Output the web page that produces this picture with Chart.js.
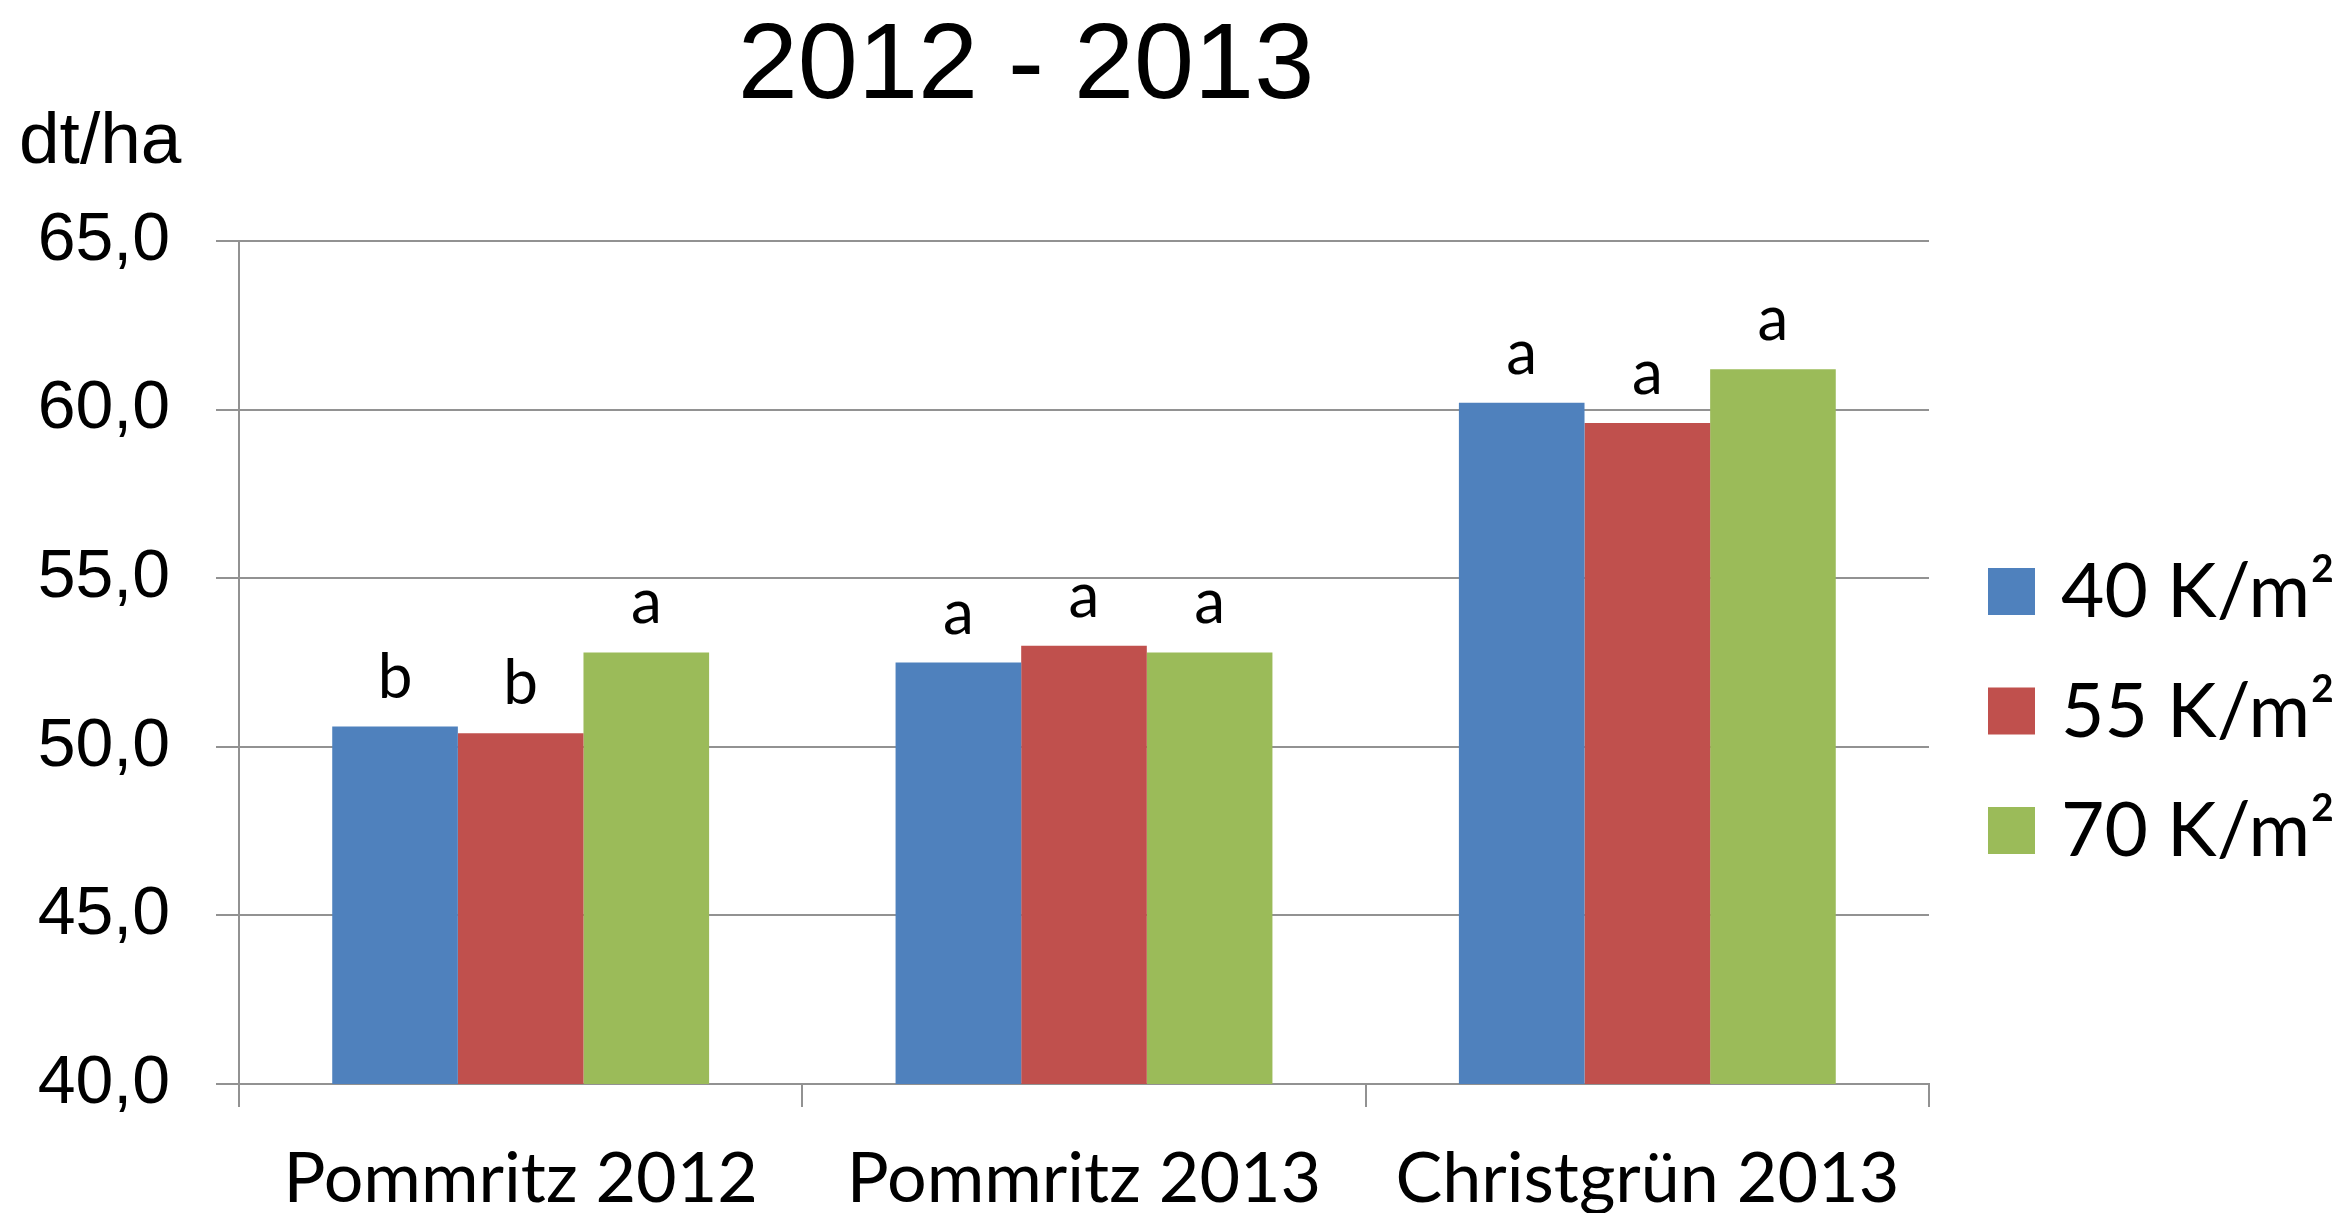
<!DOCTYPE html>
<html>
<head>
<meta charset="utf-8">
<script src="https://cdn.jsdelivr.net/npm/chart.js@4.4.1/dist/chart.umd.min.js"></script>
<style>
  body { margin: 0; background: #fff; }
  canvas { display: block; }
</style>
</head>
<body>
<canvas id="myChart" width="2345" height="1213"></canvas>
<script>
const labels = ["Pommritz 2012", "Pommritz 2013", "Christgrün 2013"];
const seriesNames = ["40 K/m²", "55 K/m²", "70 K/m²"];
const values40 = [50.6, 52.5, 60.2];
const values55 = [50.4, 53.0, 59.6];
const values70 = [52.8, 52.8, 61.2];
const letters40 = ["b", "a", "a"];
const letters55 = ["b", "a", "a"];
const letters70 = ["a", "a", "a"];
const yTicks = [40, 45, 50, 55, 60, 65];
const chartTitle = "2012 - 2013";
const unitLabel = "dt/ha";

const colors = ["#4F81BD", "#C0504D", "#9BBB59"];
const gridColor = "#929292";

// title, unit, letters over bars, legend
const extraText = {
  id: "extraText",
  afterDraw(chart) {
    const ctx = chart.ctx;
    ctx.save();
    ctx.fillStyle = "#000";

    // letters above bars
    ctx.textAlign = "center";
    ctx.textBaseline = "alphabetic";
    ctx.font = "62px Lato";
    chart.data.datasets.forEach((ds, i) => {
      chart.getDatasetMeta(i).data.forEach((bar, j) => {
        ctx.fillText(ds.letters[j], bar.x, bar.y - 29);
      });
    });

    ctx.font = "108px 'Liberation Sans'";
    ctx.fillText(chartTitle, 1026, 98);

    ctx.textAlign = "left";
    ctx.font = "73px 'Liberation Sans'";
    ctx.fillText(unitLabel, 19, 163);

    // legend
    ctx.font = "76px Lato";
    chart.data.datasets.forEach((ds, i) => {
      const top = 568 + i * 119.5;
      ctx.fillStyle = ds.backgroundColor;
      ctx.fillRect(1988, top, 47, 47);
      ctx.fillStyle = "#000";
      ctx.save();
      ctx.translate(2061, top + 49);
      ctx.scale(274 / ctx.measureText(ds.label).width, 1);
      ctx.fillText(ds.label, 0, 0);
      ctx.restore();
    });
    ctx.restore();
  },
};

const cht = document.getElementById("myChart");

const chart = new Chart(cht, {
  type: "bar",
  data: {
    labels: labels,
    datasets: [
      { label: seriesNames[0], data: values40, letters: letters40, backgroundColor: colors[0] },
      { label: seriesNames[1], data: values55, letters: letters55, backgroundColor: colors[1] },
      { label: seriesNames[2], data: values70, letters: letters70, backgroundColor: colors[2] },
    ],
  },
  options: {
    responsive: false,
    animation: false,
    devicePixelRatio: 1,
    categoryPercentage: 0.669,
    barPercentage: 1.0,
    layout: {
      padding: { top: 241, right: 416, bottom: 0, left: 0 },
    },
    scales: {
      x: {
        grid: {
          display: true,
          offset: true,
          drawOnChartArea: false,
          tickLength: 23,
          color: gridColor,
          lineWidth: 2,
        },
        border: { color: gridColor, width: 2 },
        ticks: {
          color: "#000",
          padding: 30,
          maxRotation: 0,
          minRotation: 0,
          autoSkip: false,
          font: { family: "Lato", size: 70 },
        },
        afterFit: (s) => { s.height = 129; },
      },
      y: {
        min: yTicks[0],
        max: yTicks[yTicks.length - 1],
        grid: {
          color: gridColor,
          lineWidth: 2,
          tickLength: 23,
        },
        border: { color: gridColor, width: 2 },
        ticks: {
          stepSize: yTicks[1] - yTicks[0],
          color: "#000",
          padding: 46,
          font: { family: "'Liberation Sans'", size: 68 },
          callback: (v) => v.toFixed(1).replace(".", ","),
        },
        afterFit: (s) => { s.width = 239; },
      },
    },
    plugins: {
      legend: { display: false },
      title: { display: false },
      tooltip: { enabled: false },
    },
  },
  plugins: [extraText],
});
</script>
</body>
</html>
